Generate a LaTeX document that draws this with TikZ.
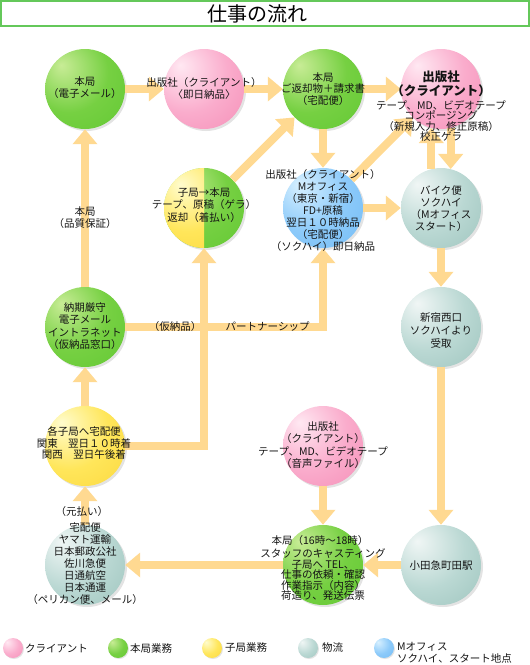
\documentclass[tikz,border=0pt]{standalone}
\usepackage{fontspec}
\setmainfont{Noto Sans CJK JP}
\usepackage{tikz}
\usetikzlibrary{arrows.meta,shadows,positioning}

\definecolor{flowc}{RGB}{255,217,145}
\definecolor{titlec}{RGB}{100,200,90}
\definecolor{ink}{RGB}{20,20,20}
\definecolor{pinkA}{RGB}{255,232,242}
\definecolor{pinkB}{RGB}{250,172,204}
\definecolor{pinkC}{RGB}{240,118,165}
\definecolor{greenA}{RGB}{200,236,150}
\definecolor{greenB}{RGB}{118,208,66}
\definecolor{greenC}{RGB}{82,194,40}
\definecolor{yellowA}{RGB}{255,252,205}
\definecolor{yellowB}{RGB}{255,230,90}
\definecolor{yellowC}{RGB}{248,204,40}
\definecolor{grayA}{RGB}{240,246,245}
\definecolor{grayB}{RGB}{186,216,211}
\definecolor{grayC}{RGB}{134,180,172}
\definecolor{blueA}{RGB}{215,240,255}
\definecolor{blueB}{RGB}{140,202,250}
\definecolor{blueC}{RGB}{96,176,240}

\pgfdeclareradialshading{pinkball}{\pgfpoint{-15bp}{15bp}}{color(0bp)=(pinkA);color(25bp)=(pinkB);color(65bp)=(pinkC);color(80bp)=(pinkC)}
\pgfdeclareradialshading{greenball}{\pgfpoint{-15bp}{15bp}}{color(0bp)=(greenA);color(25bp)=(greenB);color(65bp)=(greenC);color(80bp)=(greenC)}
\pgfdeclareradialshading{yellowball}{\pgfpoint{-15bp}{15bp}}{color(0bp)=(yellowA);color(25bp)=(yellowB);color(65bp)=(yellowC);color(80bp)=(yellowC)}
\pgfdeclareradialshading{grayball}{\pgfpoint{-15bp}{15bp}}{color(0bp)=(grayA);color(25bp)=(grayB);color(65bp)=(grayC);color(80bp)=(grayC)}
\pgfdeclareradialshading{blueball}{\pgfpoint{-15bp}{15bp}}{color(0bp)=(blueA);color(25bp)=(blueB);color(65bp)=(blueC);color(80bp)=(blueC)}

\begin{document}
\begin{tikzpicture}[x=1pt,y=-1pt,
  bubble/.style={circle, minimum size=80pt, inner sep=0pt, shade,
    drop shadow={opacity=0.22, shadow xshift=2pt, shadow yshift=-2pt}},
  lgbubble/.style={circle, minimum size=20pt, inner sep=0pt, shade,
    drop shadow={opacity=0.22, shadow xshift=1pt, shadow yshift=-1pt}},
  pinkbub/.style={bubble, shading=pinkball},
  greenbub/.style={bubble, shading=greenball},
  yellowbub/.style={bubble, shading=yellowball},
  graybub/.style={bubble, shading=grayball},
  bluebub/.style={bubble, shading=blueball},
  flow/.style={draw=flowc, line width=8pt, -{Triangle[width=24pt,length=15pt]}},
  txt/.style={align=center, inner sep=0pt, text=ink, font=\fontsize{10.5pt}{#1}\selectfont},
  txt/.default=12pt]
\useasboundingbox (0,0) rectangle (530,665);

% title
\draw [titlec, line width=1.5pt] (1,1) rectangle (529,26);
\node [font=\fontsize{20pt}{22pt}\selectfont] (title) at (257,13.5) {仕事の流れ};

% circles
\node [greenbub] (mail) at (85,89) {};
\node [pinkbub] (sokujitsu) at (204,89) {};
\node [greenbub] (henkyaku) at (323,89) {};
\node [pinkbub] (clienttop) at (441,89) {};
\node [greenbub, path picture={
    \clip (path picture bounding box.north west) rectangle (path picture bounding box.south);
    \shade [shading=yellowball] (path picture bounding box.center) circle [radius=40];}]
  (kokyoku) at (204,208) {};
\node [bluebub] (moffice) at (323,208) {};
\node [graybub] (bike) at (441,208) {};
\node [greenbub] (nouki) at (85,327) {};
\node [graybub] (shinjuku) at (441,327) {};
\node [yellowbub] (kakokyoku) at (85,446) {};
\node [pinkbub] (clientbot) at (323,446) {};
\node [graybub] (takuhai) at (85,565) {};
\node [greenbub] (honkyoku) at (323,565) {};
\node [graybub] (machida) at (441,565) {};

% flows
\draw [flow] (mail) -- (sokujitsu);
\draw [flow] (sokujitsu) -- (henkyaku);
\draw [flow] (henkyaku) -- (clienttop);
\draw [flow] (henkyaku) -- (moffice);
\draw [flow] (kokyoku) -- (henkyaku);
\draw [flow] (moffice) -- (clienttop);
\draw [flow] (bike.104) -- (clienttop.256);
\draw [flow] (clienttop.284) -- (bike.76);
\draw [flow] (moffice) -- (bike);
\draw [flow] (bike) -- (shinjuku);
\draw [flow] (shinjuku) -- (machida);
\draw [flow] (machida) -- (honkyoku);
\draw [flow] (honkyoku) -- (takuhai);
\draw [flow] (clientbot) -- (honkyoku);
\draw [flow] (takuhai) -- (kakokyoku);
\draw [flow] (kakokyoku) -- (nouki);
\draw [flow] (nouki) -- (mail);
\draw [flow] (kakokyoku.east) -| (kokyoku.south);
\draw [flow] (nouki.east) -| node [txt, pos=0.126] (karinouhin) {（仮納品）}
  node [txt, pos=0.36] (partner) {パートナーシップ} (moffice.south);

% flow labels
\node [txt] (hinshitsu) at (85,218) {本局\\（品質保証）};
\node [txt] (motobarai) at (82,512) {（元払い）};

% circle texts
\node [txt] (mail-t) at (85,88) {本局\\（電子メール）};
\node [txt] (sokujitsu-t) at (204,88) {出版社（クライアント）\\〈即日納品〉};
\node [txt=11.5pt] (henkyaku-t) at (323,89) {本局\\ご返却物＋請求書\\（宅配便）};
\node [txt, font=\bfseries\fontsize{12.5pt}{14pt}\selectfont] (clienttop-t) at (441,84) {出版社\\（クライアント）};
\node [txt=10.5pt] (clienttop-s) at (441,121) {テープ、MD、ビデオテープ\\コンポージング\\（新規入力、修正原稿）\\校正ゲラ};
\node [txt=12.5pt] (kokyoku-t) at (204,205) {子局→本局\\テープ、原稿（ゲラ）\\返却（着払い）};
\node [txt] (moffice-t) at (323,211) {出版社（クライアント）\\Mオフィス\\（東京・新宿）\\FD+原稿\\翌日１０時納品\\（宅配便）\\（ソクハイ）即日納品};
\node [txt] (bike-t) at (441,209) {バイク便\\ソクハイ\\（Mオフィス\\スタート）};
\node [txt=13pt] (shinjuku-t) at (441,330) {新宿西口\\ソクハイより\\受取};
\node [txt=12.5pt] (nouki-t) at (85,326) {納期厳守\\電子メール\\イントラネット\\（仮納品窓口）};
\node [txt=11.5pt] (kakokyoku-t) at (84,443) {各子局へ宅配便\\関東　翌日１０時着\\関西　翌日午後着};
\node [txt=12.5pt] (clientbot-t) at (323,445) {出版社\\（クライアント）\\テープ、MD、ビデオテープ\\（音声ファイル）};
\node [txt] (takuhai-t) at (85,564) {宅配便\\ヤマト運輸\\日本郵政公社\\佐川急便\\日通航空\\日本通運\\（ペリカン便、メール）};
\node [txt] (honkyoku-h) at (320,541) {本局（16時〜18時）};
\node [txt=10.5pt] (honkyoku-t) at (323,575) {スタッフのキャスティング\\子局へ TEL、\\仕事の依頼・確認\\作業指示（内容）\\荷造り、発送伝票};
\node [txt] (machida-t) at (441,566) {小田急町田駅};

% legend
\node [lgbubble, shading=pinkball] (lg-client) at (13,648) {};
\node [txt, anchor=west] (lg-client-t) at (25,648) {クライアント};
\node [lgbubble, shading=greenball] (lg-honkyoku) at (118,648) {};
\node [txt, anchor=west] (lg-honkyoku-t) at (130,648) {本局業務};
\node [lgbubble, shading=yellowball] (lg-kokyoku) at (212,648) {};
\node [txt, anchor=west] (lg-kokyoku-t) at (225,648) {子局業務};
\node [lgbubble, shading=grayball] (lg-butsuryu) at (308,648) {};
\node [txt, anchor=west] (lg-butsuryu-t) at (322,648) {物流};
\node [lgbubble, shading=blueball] (lg-moffice) at (384,648) {};
\node [txt, anchor=west, align=left] (lg-moffice-t) at (397,653) {Mオフィス\\ソクハイ、スタート地点};
\end{tikzpicture}
\end{document}
